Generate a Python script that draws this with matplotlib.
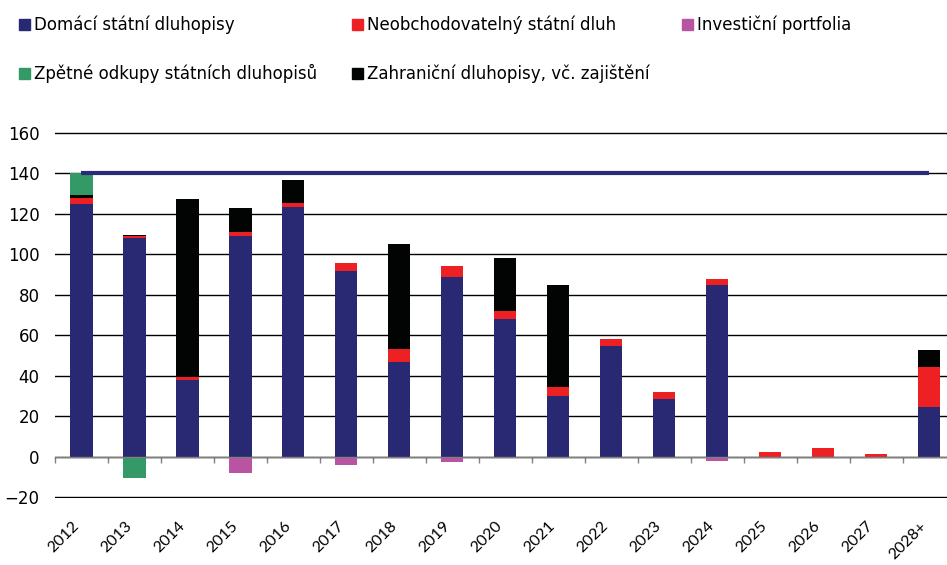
import numpy as np
import matplotlib
matplotlib.use("Agg")
import matplotlib.pyplot as plt
from matplotlib.patches import Rectangle

# --------------------------------------------------
# Data (mld. Kč)
# --------------------------------------------------
years = ["2012", "2013", "2014", "2015", "2016", "2017", "2018", "2019", "2020",
         "2021", "2022", "2023", "2024", "2025", "2026", "2027", "2028+"]
domestic = [125, 108, 38, 109, 123.5, 91.5, 47, 88.5, 68, 30, 54.5, 28.5, 85, 0, 0, 0, 24.5]
nontradable = [3, 1, 1.5, 2, 2, 4, 6, 5.5, 4, 4.5, 3.5, 3.5, 3, 2.3, 4.3, 1.3, 20]
foreign = [1, 0.5, 88, 12, 11, 0, 52, 0, 26, 50.5, 0, 0, 0, 0, 0, 0, 8]
buyback = [11, -10.5, 0, 0, 0, 0, 0, 0, 0, 0, 0, 0, 0, 0, 0, 0, 0]
portfolio = [0, 0, 0, -8, 0, -4, 0, -2.5, 0, 0, 0, 0, -2, 0, 0, 0, 0]
limit = 140

labels = ["Domácí státní dluhopisy", "Neobchodovatelný státní dluh", "Investiční portfolia",
          "Zpětné odkupy státních dluhopisů", "Zahraniční dluhopisy, vč. zajištění"]

C_NAVY = "#282972"
C_RED = "#ED2024"
C_PINK = "#B854A2"
C_GREEN = "#339966"
C_BLACK = "#020403"

W, H = 947, 565
fig = plt.figure(figsize=(W / 100, H / 100), dpi=100)
# y pixel of 0 ~456.7, ~2.025 px per unit
y_lo, y_hi = -20.4, 160.4
px_lo, px_hi = 456.7 - 2.025 * y_lo, 456.7 - 2.025 * y_hi
ax = fig.add_axes([55 / W, 1 - px_lo / H, (W - 55) / W, (px_lo - px_hi) / H])

x = np.arange(len(years))
bw = 0.42

# stack positives upward, negatives downward
series = [(domestic, C_NAVY), (nontradable, C_RED), (foreign, C_BLACK),
          (buyback, C_GREEN), (portfolio, C_PINK)]
pos_base = np.zeros(len(years))
neg_base = np.zeros(len(years))
for vals, col in series:
    v = np.array(vals, dtype=float)
    p = np.where(v > 0, v, 0)
    n = np.where(v < 0, v, 0)
    ax.bar(x, p, bw, bottom=pos_base, color=col, zorder=2, linewidth=0)
    ax.bar(x, n, bw, bottom=neg_base, color=col, zorder=2, linewidth=0)
    pos_base += p
    neg_base += n

ax.hlines(limit, 0, len(years) - 1, color="#2B2C78", lw=3, zorder=3)

ax.set_xlim(-0.5, 16.34)
ax.set_ylim(y_lo, y_hi)
ax.set_yticks(np.arange(-20, 161, 20))
ax.yaxis.grid(True, color="black", lw=1.0)
ax.set_axisbelow(True)
ax.tick_params(axis="y", length=0, pad=11, labelsize=12)

for s in ["left", "right", "top"]:
    ax.spines[s].set_visible(False)
ax.spines["bottom"].set_position(("data", 0))
ax.spines["bottom"].set_color("#808080")
ax.spines["bottom"].set_linewidth(1.0)
ax.spines["bottom"].set_zorder(4)

ax.set_xticks(x)
ax.set_xticklabels(years, rotation=45, ha="right", fontsize=11.5, family="Lato")
ax.set_xticks(np.arange(-0.5, 16, 1), minor=True)
ax.tick_params(axis="x", which="major", length=0, pad=45)
ax.tick_params(axis="x", which="minor", length=4.5, width=1, color="#808080", direction="out")

# legend, laid out by hand
leg_items = [(labels[0], C_NAVY, 19, 30), (labels[1], C_RED, 352, 30), (labels[2], C_PINK, 682, 30),
             (labels[3], C_GREEN, 19, 79), (labels[4], C_BLACK, 352, 79)]
for txt, col, lx, base in leg_items:
    fig.patches.append(Rectangle((lx / W, 1 - base / H), 11 / W, 11 / H,
                                 transform=fig.transFigure, color=col, figure=fig))
    fig.text((lx + 15) / W, 1 - base / H, txt, fontsize=12, va="baseline", ha="left")

fig.savefig("out.png", dpi=100)
